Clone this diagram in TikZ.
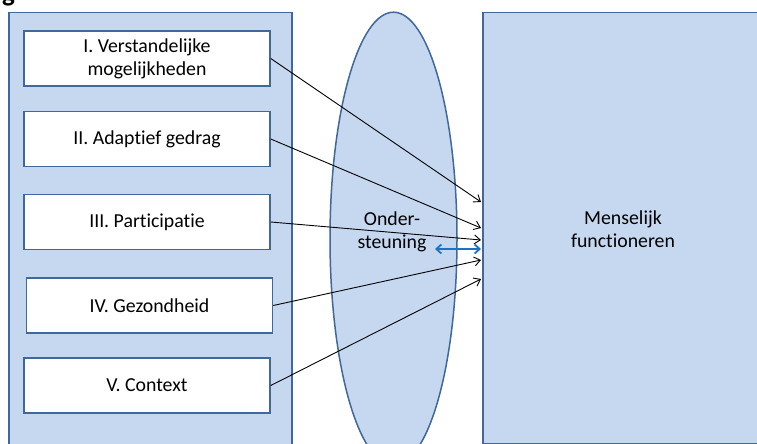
\documentclass[tikz,border=0pt]{standalone}
\usepackage{fontspec}
\setmainfont[Ligatures=NoCommon]{Carlito}
\usetikzlibrary{shapes.geometric,arrows.meta}
\definecolor{lightfill}{HTML}{C6D8EF}
\definecolor{edgeblue}{HTML}{41689A}
\definecolor{arrowblue}{HTML}{1A73C6}
\begin{document}
\begin{tikzpicture}[x=1pt,y=-1pt,
  panel/.style={draw=edgeblue,line width=1.5pt,fill=lightfill,inner sep=0pt},
  itembox/.style={draw=edgeblue,line width=1.5pt,fill=white,minimum width=246pt,minimum height=55pt,inner sep=0pt,align=center,font=\fontsize{19.8}{23}\selectfont},
  link/.style={draw=black,line width=0.9pt,-{Straight Barb[length=6pt,width=9pt]}},
  lbl/.style={align=center,font=\fontsize{19.8}{23}\selectfont}]
\useasboundingbox (0,0) rectangle (757,444);
\clip (0,0) rectangle (757,444);
\fill[white] (0,0) rectangle (757,444);
% cropped title fragment
\node[anchor=base west,inner sep=0pt,font=\fontsize{27}{30}\selectfont\bfseries] (title) at (2,2) {g};
% left container
\node[panel,minimum width=283pt,minimum height=440pt,anchor=north west] (left) at (8,12) {};
% ellipse
\node[panel,ellipse,minimum width=127pt,minimum height=453pt] (ond) at (393.5,238.7) {};
% right box
\node[panel,minimum width=300pt,minimum height=431pt,anchor=north west] (mf) at (482,12) {};
% item boxes
\node[itembox] (b1) at (147,58.5) {I. Verstandelijke\\mogelijkheden};
\node[itembox] (b2) at (147,139) {II. Adaptief gedrag};
\node[itembox] (b3) at (147,222) {III. Participatie};
\node[itembox] (b4) at (149.5,305.5) {IV. Gezondheid};
\node[itembox] (b5) at (147,385.5) {V. Context};
% labels
\node[lbl] (ondtext) at (392,232) {Onder-\\steuning};
\node[lbl] (mftext) at (623,229.5) {Menselijk\\functioneren};
% target points
\coordinate (t1) at (481,202);
\coordinate (t2) at (481,228);
\coordinate (t3) at (481,240);
\coordinate (t4) at (481,260);
\coordinate (t5) at (481,279);
\coordinate (da) at (435,249);
\coordinate (db) at (481,249);
\draw[link] (b1.east) -- (t1);
\draw[link] (b2.east) -- (t2);
\draw[link] (b3.east) -- (t3);
\draw[link] (b4.east) -- (t4);
\draw[link] (b5.east) -- (t5);
\draw[arrowblue,line width=1.8pt,{Straight Barb[length=5pt,width=9pt]}-{Straight Barb[length=5pt,width=9pt]}] (da) -- (db);
\end{tikzpicture}
\end{document}
